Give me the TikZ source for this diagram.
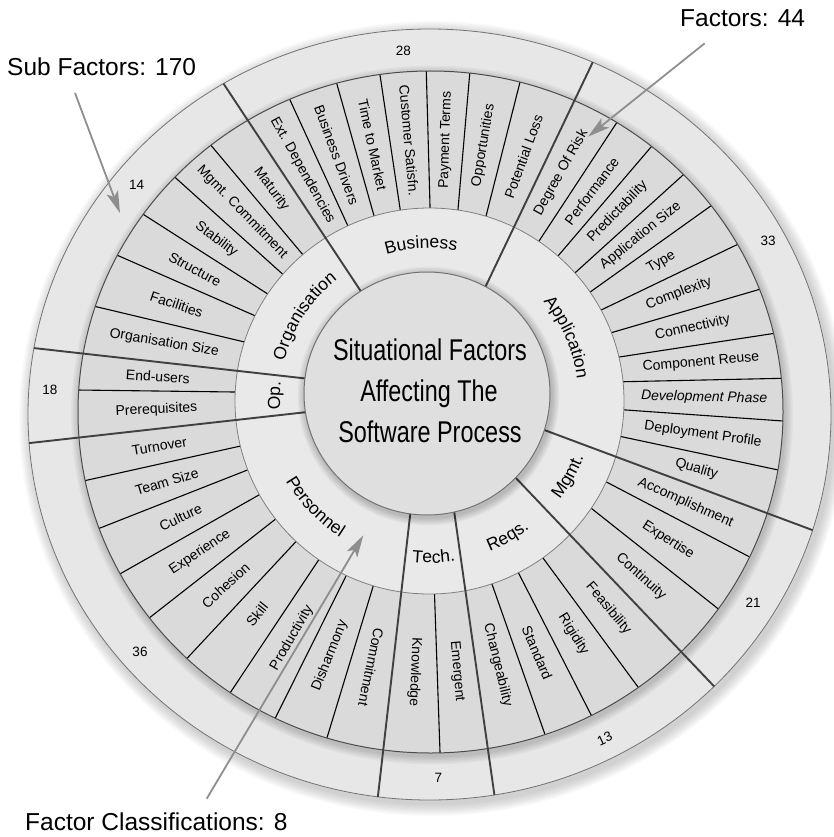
\documentclass[tikz,border=0pt]{standalone}
\usepackage{fontspec}
\setmainfont{Liberation Sans}
\newfontfamily\narrowfont[FakeStretch=0.78]{Liberation Sans}
\usetikzlibrary{calc,intersections,decorations.text,arrows.meta}
\definecolor{numring}{HTML}{E7E7E7}
\definecolor{subring}{HTML}{DADADA}
\definecolor{clsring}{HTML}{E9E9E9}
\definecolor{core}{HTML}{DFDFDF}
\definecolor{callgray}{HTML}{8E8E8E}
\newcommand\mkpt[3]{\coordinate (#1) at (#2,-#3);}
\newcommand\subfont{\fontsize{14}{16}\selectfont}
\newcommand\clsfont{\fontsize{17.5}{20}\selectfont}
\newcommand\numfont{\fontsize{13.5}{15}\selectfont}
\newcommand\callfont{\fontsize{24.5}{28}\selectfont}
\newcommand\titlefont{\narrowfont\fontsize{30}{34}\selectfont}
\newcommand\minorln[5]{\mkpt{#1b}{#2}{#3}\mkpt{#1c}{#4}{#5}}
\newcommand\majorln[5]{\mkpt{#1i}{#2}{#3}\mkpt{#1o}{#4}{#5}%
  \path[name path=#1] (#1i) -- (#1o);%
  \path[name intersections={of=E2 and #1, by={#1b}}];%
  \path[name intersections={of=E3 and #1, by={#1c}}];}
\newcommand\sublabel[5][]{\path ($(#3b)!0.5!(#4b)$) -- ($(#3c)!0.5!(#4c)$) node[sublab, midway, sloped, #1] (#2) {#5};}
\newcommand\clsup[3]{\path[decorate, decoration={text along path, text={|\clsfont|#3}, text align=center}] (429,-397) ++(#1+40:#2) arc[start angle=#1+40, end angle=#1-40, radius=#2];}
\newcommand\clslow[3]{\path[decorate, decoration={text along path, text={|\clsfont|#3}, text align=center}] (429,-397) ++(#1-40:#2) arc[start angle=#1-40, end angle=#1+40, radius=#2];}
\begin{document}
\begin{tikzpicture}[x=1pt,y=1pt,
  sublab/.style={font=\subfont, inner sep=0pt},
  numlab/.style={font=\numfont, inner sep=0pt},
  minorline/.style={line width=1.1pt, black},
  majorline/.style={line width=1.9pt, black!75},
  callout/.style={font=\callfont, inner sep=0pt, anchor=base west},
  callarrow/.style={line width=1.8pt, callgray, -{Stealth[length=22pt,width=12pt,inset=5pt]}},
  titletext/.style={font=\titlefont, anchor=base, inner sep=0pt}]
\useasboundingbox (0,0) rectangle (833,-837);
% ring paths used for intersections
\path[name path=E2] (429.5,-401) ellipse[x radius=194.5, y radius=193];
\path[name path=E3] (430.5,-412) ellipse[x radius=352.5, y radius=341];
% major dividers (inner circle -> outer edge)
\majorln{M1}{360}{290}{223.3}{83.3}
\majorln{M2}{486.3}{285}{593}{61.7}
\majorln{M3}{549.7}{432}{813}{530.3}
\majorln{M4}{519.7}{482}{714.7}{687}
\majorln{M5}{454.7}{515.3}{494.7}{797}
\majorln{M6}{410}{516}{377.5}{800}
\majorln{M7}{303}{412.5}{30}{443}
\majorln{M8}{304}{378.3}{36}{348.3}
% minor dividers (factor ring)
\minorln{a1}{623}{437}{779.7}{470.3}
\minorln{a2}{626}{410}{783}{421}
\minorln{a3}{624.7}{381.7}{783}{378.3}
\minorln{a4}{621.3}{356.7}{774.7}{333.3}
\minorln{a5}{614.7}{331.7}{759.7}{289.3}
\minorln{a6}{604.7}{308.3}{736.3}{245}
\minorln{a7}{593}{290}{710.7}{206}
\minorln{a8}{576.3}{271.7}{683}{175}
\minorln{a9}{559.7}{254}{651.3}{146.7}
\minorln{a10}{539.7}{240}{616.3}{123.3}
\minorln{b1}{486.3}{215}{519.7}{83.3}
\minorln{b2}{458}{209.3}{469.7}{74}
\minorln{b3}{430}{206}{426.3}{71.7}
\minorln{b4}{400}{208.3}{380}{75}
\minorln{b5}{373.3}{213.3}{336.7}{83.3}
\minorln{b6}{346.7}{223.3}{290}{100}
\minorln{o1}{301.7}{253.3}{210.7}{145}
\minorln{o2}{281.7}{273.3}{174.3}{176.7}
\minorln{o3}{266.7}{293.3}{142.7}{214}
\minorln{o4}{253.3}{315}{116.7}{255}
\minorln{o5}{243.3}{341.7}{93.3}{306}
\minorln{p1}{234}{392}{77}{390}
\minorln{q1}{239.3}{446.3}{83.3}{481}
\minorln{q2}{246.7}{470.3}{98.3}{528.7}
\minorln{q3}{258.3}{495.3}{119.3}{574.3}
\minorln{q4}{274}{520.3}{148.3}{618.7}
\minorln{q5}{294}{543.7}{186.7}{658.7}
\minorln{q6}{317.3}{562}{230}{693}
\minorln{q7}{345}{578}{275}{718.7}
\minorln{q8}{372.7}{587.7}{326.7}{738.7}
\minorln{t1}{434.5}{594}{440}{752}
\minorln{r1}{493}{587}{544.7}{733.7}
\minorln{r2}{519.7}{575.3}{591.3}{715.3}
\minorln{r3}{544.7}{560.3}{638}{687}
\minorln{g1}{594.7}{511}{718}{608.7}
\minorln{g2}{609.7}{483.7}{749.7}{557}
% outer drop shadow
\foreach \s in {1,...,10} {\fill[black, opacity=0.02] (432.5,-418.5) ellipse[x radius={401.5+\s*1.2}, y radius={385.5+\s*1.2}];}
% number ring
\filldraw[fill=numring, draw=black!55, line width=0.8pt] (429.5,-414.5) ellipse[x radius=401.5, y radius=385.5];
% shadow of factor ring
\foreach \s in {1,...,6} {\fill[black, opacity=0.03] (432,-415) ellipse[x radius={352.5+\s*1.4}, y radius={341+\s*1.4}];}
\fill[subring] (430.5,-412) ellipse[x radius=352.5, y radius=341];
\begin{scope}
  \clip (430.5,-412) ellipse[x radius=352.5, y radius=341];
  \foreach \m in {a1,a2,a3,a4,a5,a6,a7,a8,a9,a10,b1,b2,b3,b4,b5,b6,o1,o2,o3,o4,o5,p1,q1,q2,q3,q4,q5,q6,q7,q8,t1,r1,r2,r3,g1,g2}
    {\draw[minorline] ($(\m b)!-0.15!(\m c)$) -- ($(\m b)!1.3!(\m c)$);}
\end{scope}
\draw[black!70, line width=1pt] (430.5,-412) ellipse[x radius=352.5, y radius=341];
% classification ring
\filldraw[fill=clsring, draw=black!50, line width=0.8pt] (429.5,-401) ellipse[x radius=194.5, y radius=193];
\begin{scope}
  \clip (429.5,-414.5) ellipse[x radius=401.5, y radius=385.5];
  \foreach \m in {M1,M2,M3,M4,M5,M6,M7,M8}
    {\draw[majorline] ($(\m i)!-0.1!(\m o)$) -- ($(\m i)!1.1!(\m o)$);}
\end{scope}
% core
\foreach \s in {1,...,6} {\fill[black, opacity=0.035] (428.5,-396) ellipse[x radius={123+\s*1.3}, y radius={121.5+\s*1.3}];}
\filldraw[fill=core, draw=black!55, line width=1pt] (427,-393.5) ellipse[x radius=123, y radius=121.5];
\node[titletext] (tl1) at (430,-360) {Situational Factors};
\node[titletext] (tl2) at (429,-401.7) {Affecting The};
\node[titletext] (tl3) at (430,-442.5) {Software Process};
% classification labels
\clsup{93}{149}{Business}
\clsup{147}{149}{Organisation}
\clsup{179.5}{149}{Op.}
\clsup{23.4}{149}{Application}
\clslow{-136}{166}{Personnel}
\clslow{-88.4}{166}{Tech.}
\clslow{-60.6}{166}{Reqs.}
\clslow{-29.7}{166}{Mgmt.}
% factor labels
\sublabel{lQual}{M3}{a1}{Quality}
\sublabel{lDepl}{a1}{a2}{Deployment Profile}
\sublabel{lDev}{a2}{a3}{\itshape Development Phase}
\sublabel{lComp}{a3}{a4}{Component Reuse}
\sublabel{lConn}{a4}{a5}{Connectivity}
\sublabel{lCplx}{a5}{a6}{Complexity}
\sublabel{lType}{a6}{a7}{Type}
\sublabel{lAppS}{a7}{a8}{Application Size}
\sublabel{lPred}{a8}{a9}{Predictability}
\sublabel{lPerf}{a9}{a10}{Performance}
\sublabel{lRisk}{a10}{M2}{Degree Of Risk}
\sublabel{lLoss}{M2}{b1}{Potential Loss}
\sublabel{lOpp}{b1}{b2}{Opportunities}
\sublabel{lPay}{b2}{b3}{Payment Terms}
\sublabel{lCust}{b3}{b4}{Customer Satisfn.}
\sublabel{lTime}{b4}{b5}{Time to Market}
\sublabel{lDrv}{b5}{b6}{Business Drivers}
\sublabel{lExt}{b6}{M1}{Ext. Dependencies}
\sublabel{lMat}{M1}{o1}{Maturity}
\sublabel{lMgc}{o1}{o2}{Mgmt. Commitment}
\sublabel{lStab}{o2}{o3}{Stability}
\sublabel{lStru}{o3}{o4}{Structure}
\sublabel{lFac}{o4}{o5}{Facilities}
\sublabel{lOrgS}{o5}{M8}{Organisation Size}
\sublabel{lEnd}{M8}{p1}{End-users}
\sublabel{lPre}{p1}{M7}{Prerequisites}
\sublabel{lTurn}{M7}{q1}{Turnover}
\sublabel{lTeam}{q1}{q2}{Team Size}
\sublabel{lCult}{q2}{q3}{Culture}
\sublabel{lExp}{q3}{q4}{Experience}
\sublabel{lCoh}{q4}{q5}{Cohesion}
\sublabel{lSkill}{q5}{q6}{Skill}
\sublabel{lProd}{q6}{q7}{Productivity}
\sublabel{lDish}{q7}{q8}{Disharmony}
\sublabel[allow upside down]{lComm}{q8}{M6}{Commitment}
\sublabel[allow upside down]{lKnow}{M6}{t1}{Knowledge}
\sublabel{lEmer}{t1}{M5}{Emergent}
\sublabel{lChg}{M5}{r1}{Changeability}
\sublabel{lStd}{r1}{r2}{Standard}
\sublabel{lRig}{r2}{r3}{Rigidity}
\sublabel{lFeas}{r3}{M4}{Feasibility}
\sublabel{lCont}{M4}{g1}{Continuity}
\sublabel{lExpt}{g1}{g2}{Expertise}
\sublabel{lAcc}{g2}{M3}{Accomplishment}
% sub-factor counts
\node[numlab] (n28) at (403.3,-50.7) {28};
\node[numlab] (n33) at (768,-240.7) {33};
\node[numlab] (n21) at (753,-603) {21};
\node[numlab, rotate=25] (n13) at (604.7,-738.7) {13};
\node[numlab] (n7) at (438.3,-778.3) {7};
\node[numlab] (n36) at (140,-652) {36};
\node[numlab] (n18) at (50,-390) {18};
\node[numlab] (n14) at (136.7,-185) {14};
% callouts
\node[callout] (cSub) at (7,-76) {Sub Factors: 170};
\node[callout] (cFac) at (680,-27) {Factors: 44};
\node[callout] (cCls) at (25,-830) {Factor Classifications: 8};
\coordinate (sfS) at (75,-93);
\coordinate (sfT) at (120,-213);
\coordinate (faS) at (704.7,-43.3);
\coordinate (faT) at (588,-136.7);
\coordinate (fcS) at (206.7,-798.7);
\coordinate (fcT) at (363.3,-535.3);
\draw[callarrow] (sfS) -- (sfT);
\draw[callarrow] (faS) -- (faT);
\draw[callarrow] (fcS) -- (fcT);
\end{tikzpicture}
\end{document}
